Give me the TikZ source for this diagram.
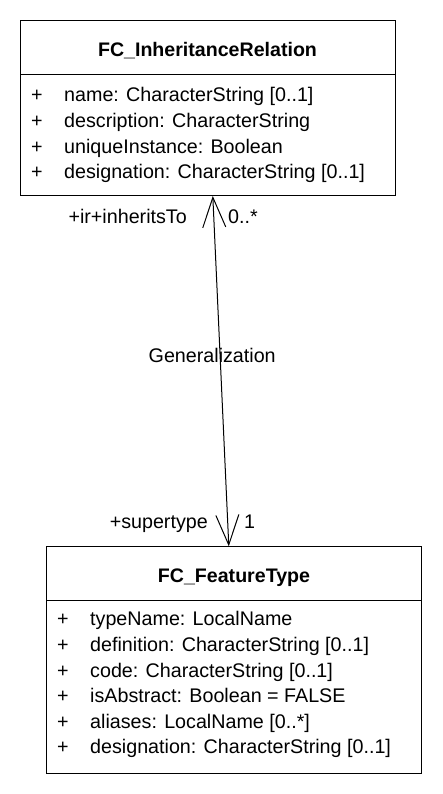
\documentclass[tikz,border=0pt]{standalone}
\usepackage{fontspec}
\setmainfont{Liberation Sans}
\usetikzlibrary{arrows.meta}
\begin{document}
\begin{tikzpicture}[x=1pt,y=-1pt,
  cls/.style={draw=black, line width=1pt, anchor=north west, inner sep=0pt, minimum width=375pt},
  sep/.style={line width=1pt},
  txt/.style={font=\fontsize{19.7}{23}\selectfont, inner sep=0pt, anchor=base west},
  ttl/.style={font=\fontsize{19.6}{23}\selectfont\bfseries, inner sep=0pt, anchor=base},
  lbl/.style={font=\fontsize{19.7}{23}\selectfont, inner sep=0pt},
  assoc/.style={line width=1pt, {Straight Barb[length=30pt,width=23pt]}-{Straight Barb[length=30pt,width=23pt]}}
]
\useasboundingbox[fill=white] (0,0) rectangle (442,794);

% FC_InheritanceRelation
\node[cls, minimum height=175pt] (ir) at (20,20) {};
\draw[sep] (20,74.3) -- (395,74.3);
\node[ttl] (irt) at (207.5,57) {FC\_InheritanceRelation};
\node[txt] (irp1) at (31,102) {+};
\node[txt] (ira1) at (64,102) {name: CharacterString [0..1]};
\node[txt] (irp2) at (31,127.7) {+};
\node[txt] (ira2) at (64,127.7) {description: CharacterString};
\node[txt] (irp3) at (31,153.3) {+};
\node[txt] (ira3) at (64,153.3) {uniqueInstance: Boolean};
\node[txt] (irp4) at (31,178.9) {+};
\node[txt] (ira4) at (64,178.9) {designation: CharacterString [0..1]};

% FC_FeatureType
\node[cls, minimum height=226.7pt] (ft) at (46,546.3) {};
\draw[sep] (46,600.7) -- (421,600.7);
\node[ttl] (ftt) at (234,582.7) {FC\_FeatureType};
\node[txt] (ftp1) at (57,625.7) {+};
\node[txt] (fta1) at (90,625.7) {typeName: LocalName};
\node[txt] (ftp2) at (57,651.3) {+};
\node[txt] (fta2) at (90,651.3) {definition: CharacterString [0..1]};
\node[txt] (ftp3) at (57,677) {+};
\node[txt] (fta3) at (90,677) {code: CharacterString [0..1]};
\node[txt] (ftp4) at (57,702.6) {+};
\node[txt] (fta4) at (90,702.6) {isAbstract: Boolean = FALSE};
\node[txt] (ftp5) at (57,728.2) {+};
\node[txt] (fta5) at (90,728.2) {aliases: LocalName [0..*]};
\node[txt] (ftp6) at (57,753.8) {+};
\node[txt] (fta6) at (90,753.8) {designation: CharacterString [0..1]};

% association
\draw[assoc] ([xshift=4.8pt]ir.south) -- ([xshift=-5.2pt]ft.north);
\node[lbl, anchor=base east] (l1) at (187,223.7) {+ir+inheritsTo};
\node[lbl, anchor=base west] (l2) at (228,223.7) {0..*};
\node[lbl, anchor=base] (gen) at (212.2,362) {Generalization};
\node[lbl, anchor=base east] (l3) at (208,528.3) {+supertype};
\node[lbl, anchor=base west] (l4) at (244,528.3) {1};
\end{tikzpicture}
\end{document}
